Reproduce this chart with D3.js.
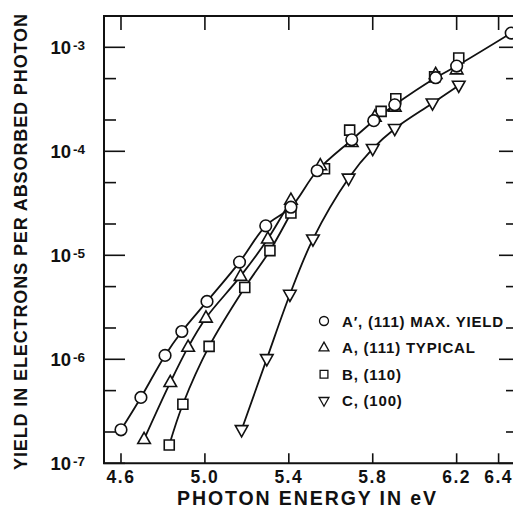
<html>
<head>
<style>
  body{margin:0;background:#fff}
  svg text{font-family:"Liberation Sans",Arial,sans-serif;font-weight:bold;fill:#111}
  .frame{stroke:#111;stroke-width:2px;fill:none}
  .tick{stroke:#111;stroke-width:1.6px}
  .curve{stroke:#111;stroke-width:1.8px;fill:none}
  .mark{stroke:#111;stroke-width:1.6px;fill:#fff}
</style>
</head>
<body>
<div id="chart"></div>
<script src="https://cdn.jsdelivr.net/npm/d3@7"></script>
<script>
// photoelectric yield vs photon energy, four crystal faces
var energyA1 = [4.60, 4.695, 4.81, 4.89, 5.01, 5.165, 5.29, 5.41, 5.535, 5.70, 5.805, 5.905, 6.10, 6.20, 6.46];
var yieldA1  = [2.1e-7, 4.3e-7, 1.09e-6, 1.85e-6, 3.6e-6, 8.6e-6, 1.92e-5, 2.9e-5, 6.5e-5, 1.29e-4, 1.97e-4, 2.8e-4, 5.1e-4, 6.6e-4, 1.37e-3];

var energyA = [4.71, 4.835, 4.92, 5.005, 5.17, 5.30, 5.41, 5.55, 5.70, 5.81, 5.905, 6.10, 6.20];
var yieldA  = [1.7e-7, 6.0e-7, 1.31e-6, 2.5e-6, 6.3e-6, 1.44e-5, 3.4e-5, 7.3e-5, 1.22e-4, 2.14e-4, 2.67e-4, 5.5e-4, 6.1e-4];

var energyB = [4.83, 4.895, 5.02, 5.19, 5.31, 5.41, 5.57, 5.69, 5.84, 5.91, 6.095, 6.21];
var yieldB  = [1.5e-7, 3.7e-7, 1.33e-6, 4.9e-6, 1.11e-5, 2.55e-5, 6.8e-5, 1.6e-4, 2.42e-4, 3.2e-4, 5.2e-4, 7.9e-4];

var energyC = [5.175, 5.295, 5.405, 5.515, 5.685, 5.80, 5.905, 6.085, 6.21];
var yieldC  = [2.1e-7, 1.01e-6, 4.2e-6, 1.43e-5, 5.5e-5, 1.06e-4, 1.65e-4, 2.9e-4, 4.3e-4];

var seriesNames = ["A\u2032, (111) MAX. YIELD", "A, (111) TYPICAL", "B, (110)", "C, (100)"];
var seriesShape = ["circle", "up", "square", "down"];
var lineUntil   = [Infinity, 5.42, 5.42, Infinity];   // A and B join the A' curve near 5.4 eV

var xTicks   = [4.6, 5.0, 5.4, 5.8, 6.2, 6.4];
var yMajor   = [1e-7, 1e-6, 1e-5, 1e-4, 1e-3];
var yMinor   = [2e-7, 5e-7, 2e-6, 5e-6, 2e-5, 5e-5, 2e-4, 5e-4];

(function () {
  var width = 513, height = 516,
      left = 104, right = 520, top = 16, bottom = 463.3;

  var x = d3.scaleLinear().domain([4.519, 6.502]).range([left, right]);
  var y = d3.scaleLog().domain([1e-7, 2e-3]).range([bottom, top]);

  var svg = d3.select('#chart').append('svg')
    .attr('width', width).attr('height', height);

  svg.append('rect').attr('width', width).attr('height', height).attr('fill', '#fff');

  var series = [
    {e: energyA1, v: yieldA1},
    {e: energyA,  v: yieldA},
    {e: energyB,  v: yieldB},
    {e: energyC,  v: yieldC}
  ].map(function (s, i) {
    return {
      name: seriesNames[i], shape: seriesShape[i], until: lineUntil[i],
      pts: s.e.map(function (e, j) { return {e: e, v: s.v[j]}; })
    };
  });

  // ticks
  var g = svg.append('g');
  g.selectAll('.xb').data(xTicks).enter().append('line').attr('class', 'tick')
    .attr('x1', x).attr('x2', x).attr('y1', bottom).attr('y2', bottom - 10);
  g.selectAll('.xt').data(xTicks).enter().append('line').attr('class', 'tick')
    .attr('x1', x).attr('x2', x).attr('y1', top).attr('y2', top + 14);
  g.selectAll('.yl').data(yMajor.concat(yMinor)).enter().append('line').attr('class', 'tick')
    .attr('x1', left).attr('x2', function (d) { return left + (yMajor.indexOf(d) >= 0 ? 21 : 12); })
    .attr('y1', y).attr('y2', y);
  g.selectAll('.yr').data(yMajor.concat(yMinor)).enter().append('line').attr('class', 'tick')
    .attr('x1', right).attr('x2', function (d) { return right - (yMajor.indexOf(d) >= 0 ? 21 : 14); })
    .attr('y1', y).attr('y2', y);

  // frame
  svg.append('path').attr('class', 'frame')
    .attr('d', 'M' + left + ',' + top + 'H' + right + 'V' + bottom + 'H' + left + 'Z');

  // tick labels
  svg.selectAll('.xlab').data(xTicks).enter().append('text')
    .attr('x', x).attr('y', 483).attr('text-anchor', 'middle')
    .style('font-size', '17.5px').style('letter-spacing', '1.5px')
    .text(function (d) { return d.toFixed(1); });

  var ylab = svg.selectAll('.ylab').data(yMajor).enter().append('g');
  ylab.append('text').attr('x', 71).attr('y', function (d) { return y(d) + 6.5; })
    .attr('text-anchor', 'end').style('font-size', '18.5px').text('10');
  ylab.append('text').attr('x', 73).attr('y', function (d) { return y(d) + 2.5; })
    .style('font-size', '13.5px')
    .text(function (d) { return '-' + Math.round(-Math.log10(d)); });

  // axis titles
  svg.append('text').attr('x', 177).attr('y', 505)
    .attr('textLength', 259).attr('lengthAdjust', 'spacing')
    .style('font-size', '19.5px').text('PHOTON ENERGY IN eV');
  svg.append('text').attr('transform', 'translate(27,470) rotate(-90)')
    .attr('textLength', 456).attr('lengthAdjust', 'spacing')
    .style('font-size', '18px').text('YIELD IN ELECTRONS PER ABSORBED PHOTON');

  // curves
  var line = d3.line()
    .x(function (d) { return x(d.e); })
    .y(function (d) { return y(d.v); })
    .curve(d3.curveCatmullRom.alpha(0.5));

  svg.selectAll('.curve').data(series).enter().append('path').attr('class', 'curve')
    .attr('d', function (s) {
      return line(s.pts.filter(function (p) { return p.e <= s.until; }));
    });

  // markers
  function shapePath(shape, k) {
    if (shape === 'circle') return d3.arc()({innerRadius: 0, outerRadius: 5.8 * k, startAngle: 0, endAngle: 2 * Math.PI});
    if (shape === 'square') { var h = 5 * k; return 'M' + -h + ',' + -h + 'H' + h + 'V' + h + 'H' + -h + 'Z'; }
    var a = 6.3 * k, t = 7 * k, b = 4.2 * k;
    if (shape === 'up') return 'M0,' + -t + 'L' + a + ',' + b + 'H' + -a + 'Z';
    return 'M0,' + t + 'L' + a + ',' + -b + 'H' + -a + 'Z';
  }

  var order = [2, 1, 3, 0];
  order.forEach(function (i) {
    var s = series[i];
    svg.selectAll('.m' + i).data(s.pts).enter().append('path').attr('class', 'mark')
      .attr('transform', function (d) { return 'translate(' + x(d.e) + ',' + y(d.v) + ')'; })
      .attr('d', shapePath(s.shape, 1));
  });

  // legend
  var leg = svg.selectAll('.leg').data(series).enter().append('g')
    .attr('transform', function (d, i) { return 'translate(324,' + (321 + i * 26.6) + ')'; });
  leg.append('path').attr('class', 'mark').style('stroke-width', '1.3px')
    .attr('d', function (d) { return shapePath(d.shape, 0.78); });
  leg.append('text').attr('x', 18).attr('y', 5.5)
    .style('font-size', '15px').style('letter-spacing', '0.8px')
    .text(function (d) { return d.name; });
})();
</script>
</body>
</html>
